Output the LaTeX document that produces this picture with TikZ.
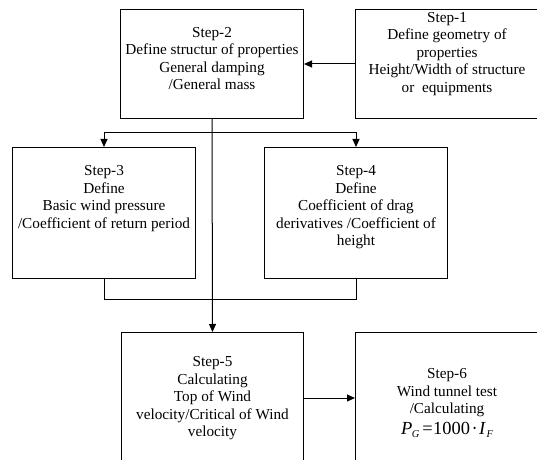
\documentclass[tikz,border=0pt]{standalone}
\usepackage{fontspec}
\setmainfont{Liberation Serif}
\usetikzlibrary{arrows.meta,calc}
\begin{document}
\begin{tikzpicture}[x=1bp,y=-1bp,
  box/.style={draw, line width=1bp, inner sep=0pt, anchor=north west,
              minimum width=183bp, minimum height=131bp},
  tallbox/.style={box, minimum height=109bp},
  txt/.style={align=center, inner sep=0pt,
              font=\fontsize{15.3}{17.6}\selectfont},
  conn/.style={line width=1bp},
  arr/.style={conn, -{Triangle[length=8bp,width=7bp]}}]
\useasboundingbox (0,0) rectangle (537,460);
\clip (0,0) rectangle (537,460);

% boxes
\node[tallbox] (s2) at (120,9) {};
\node[tallbox] (s1) at (355,9) {};
\node[box] (s3) at (12,147) {};
\node[box] (s4) at (264,147) {};
\node[box, minimum width=182bp] (s5) at (121,332) {};
\node[box] (s6) at (355,332) {};

% texts
\node[txt] (t2) at ($(s2.center)+(0,-5.5)$)
  {Step-2\\Define structur of properties\\General damping\\/General mass};
\node[txt] (t1) at ($(s1.center)+(0,-10)$)
  {Step-1\\Define geometry of\\properties\\Height/Width of structure\\or~ equipments};
\node[txt] (t3) at ($(s3.center)+(0,-14.5)$)
  {Step-3\\Define\\Basic wind pressure\\/Coefficient of return period};
\node[txt] (t4) at ($(s4.center)+(0,-5.5)$)
  {Step-4\\Define\\Coefficient of drag\\derivatives /Coefficient of\\height};
\node[txt] (t5) at ($(s5.center)+(0,0.5)$)
  {Step-5\\Calculating\\Top of Wind\\velocity/Critical of Wind\\velocity};
\node[txt] (t6) at ($(s6.center)+(0,5)$)
  {Step-6\\Wind tunnel test\\/Calculating\\[3bp]
   {\fontsize{18.5}{20}\selectfont\textit{P}\kern-0.5pt\raisebox{-0.35ex}{\fontsize{10.5}{11}\selectfont\textit{G}}\kern3pt=\kern0.5pt1000\kern1.5pt·\kern1.5pt\textit{I}\kern0.5pt\raisebox{-0.35ex}{\fontsize{10.5}{11}\selectfont\textit{F}}}};

% connectors
\coordinate (fork) at (s2.south |- 0,133);
\draw[arr] (s1.west) -- (s2.east);
\draw[arr] (s2.south) -- (s5.north);
\draw[arr] (fork) -| (s3.north);
\draw[arr] (fork) -| (s4.north);
\draw[conn] (s3.south) -- ++(0,20) -| (s4.south);
\draw[arr] (s5.east) -- (s6.west);
\end{tikzpicture}
\end{document}
